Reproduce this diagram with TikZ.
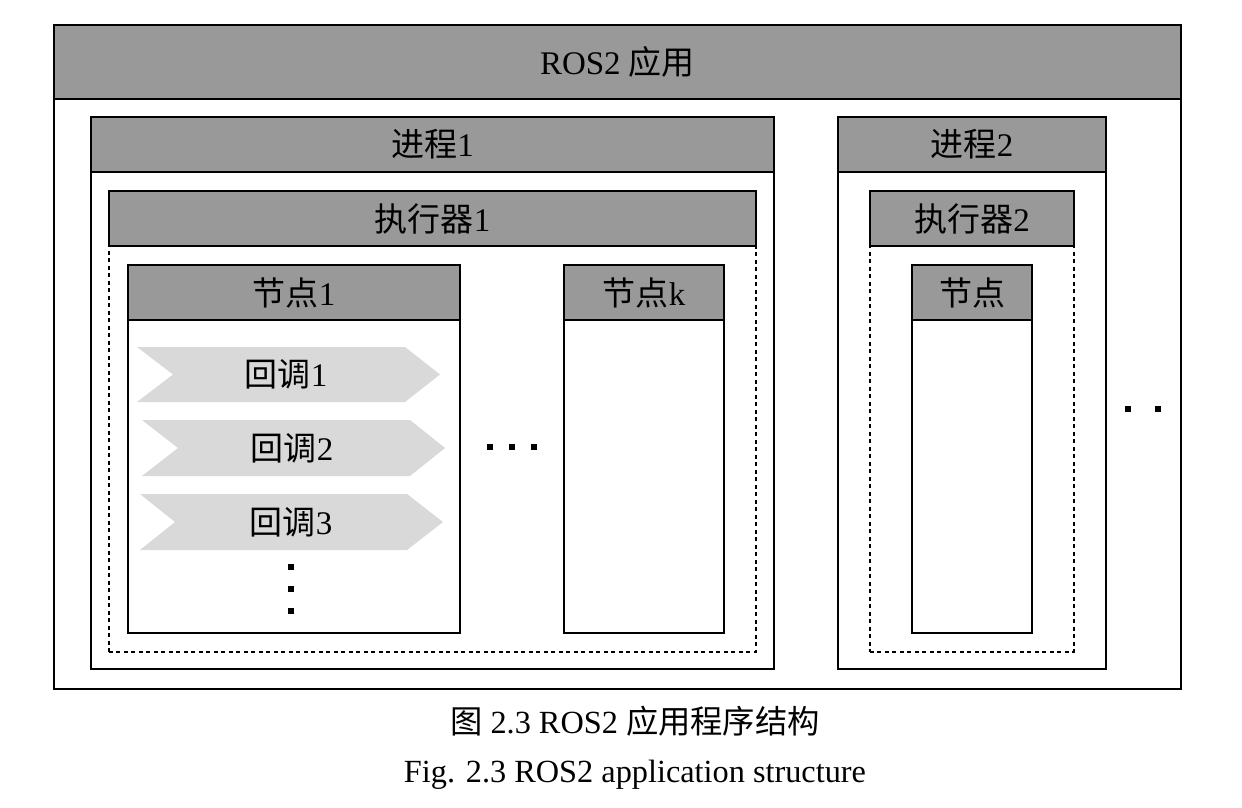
\documentclass[tikz,border=0pt]{standalone}
\usepackage{fontspec}
\setmainfont{Liberation Serif}
\newfontfamily\cjk{Noto Sans CJK SC}
\definecolor{hdrgray}{RGB}{153,153,153}
\definecolor{cbgray}{RGB}{217,217,217}
\begin{document}
\begin{tikzpicture}[x=1bp,y=-1bp,
  box/.style={draw=black, line width=2bp, inner sep=0pt, anchor=north west, fill=white},
  hdr/.style={draw=black, line width=2bp, inner sep=0pt, anchor=north west, fill=hdrgray,
    font=\fontsize{33bp}{38bp}\selectfont},
  dbox/.style={draw=black, line width=1.6bp, dash pattern=on 4bp off 3.5bp, inner sep=0pt, anchor=north west},
  cb/.style={fill=cbgray, draw=none},
  cbtext/.style={inner sep=0pt, font=\fontsize{33bp}{38bp}\selectfont},
  dot/.style={fill=black, draw=none, minimum size=6bp, inner sep=0pt},
  captext/.style={inner sep=0pt, font=\fontsize{32.3bp}{38bp}\selectfont}]
\useasboundingbox (0,0) rectangle (1242,808);

% application
\node[box, minimum width=1127bp, minimum height=664bp] (app) at (53,24) {};
\node[hdr, minimum width=1127bp, minimum height=74bp] (apph) at (53,24) {ROS2 {\cjk 应用}};

% process 1
\node[box, minimum width=683bp, minimum height=552bp] (p1) at (90,116) {};
\node[hdr, minimum width=683bp, minimum height=55bp] (p1h) at (90,116) {{\cjk 进程}1};

% executor 1
\node[dbox, minimum width=647bp, minimum height=461bp] (e1) at (108,190) {};
\node[hdr, minimum width=647bp, minimum height=55bp] (e1h) at (108,190) {{\cjk 执行器}1};

% node 1
\node[box, minimum width=332bp, minimum height=368bp] (n1) at (127,264) {};
\node[hdr, minimum width=332bp, minimum height=55bp] (n1h) at (127,264) {{\cjk 节点}1};

% node k
\node[box, minimum width=160bp, minimum height=368bp] (nk) at (563,264) {};
\node[hdr, minimum width=160bp, minimum height=55bp] (nkh) at (563,264) {{\cjk 节点}k};

% process 2
\node[box, minimum width=268bp, minimum height=552bp] (p2) at (837,116) {};
\node[hdr, minimum width=268bp, minimum height=55bp] (p2h) at (837,116) {{\cjk 进程}2};

% executor 2
\node[dbox, minimum width=204bp, minimum height=461bp] (e2) at (869,190) {};
\node[hdr, minimum width=204bp, minimum height=55bp] (e2h) at (869,190) {{\cjk 执行器}2};

% node (process 2)
\node[box, minimum width=120bp, minimum height=368bp] (n2) at (911,264) {};
\node[hdr, minimum width=120bp, minimum height=55bp] (n2h) at (911,264) {{\cjk 节点}};

% callbacks
\path[cb] (137,347) -- (405,347) -- (440,374.5) -- (405,402) -- (137,402) -- (173,374.5) -- cycle;
\node[cbtext] (cb1) at (286,374) {{\cjk 回调}1};
\path[cb] (142,420) -- (410,420) -- (445,448) -- (410,476) -- (142,476) -- (178,448) -- cycle;
\node[cbtext] (cb2) at (292,448) {{\cjk 回调}2};
\path[cb] (140,494) -- (407,494) -- (443,522) -- (407,550) -- (140,550) -- (175,522) -- cycle;
\node[cbtext] (cb3) at (291,522) {{\cjk 回调}3};

% vertical dots
\node[dot] (vd1) at (291,567) {};
\node[dot] (vd2) at (291,589) {};
\node[dot] (vd3) at (291,611) {};

% horizontal dots between nodes
\node[dot] (hd1) at (490,447) {};
\node[dot] (hd2) at (512,447) {};
\node[dot] (hd3) at (534,447) {};

% right dots
\node[dot] (rd1) at (1128,409) {};
\node[dot] (rd2) at (1158,409) {};

% caption
\node[captext] (cap1) at (635,721) {{\cjk 图} 2.3 ROS2 {\cjk 应用程序结构}};
\node[captext] (cap2) at (635,775) {Fig. 2.3 ROS2 application structure};
\end{tikzpicture}
\end{document}
